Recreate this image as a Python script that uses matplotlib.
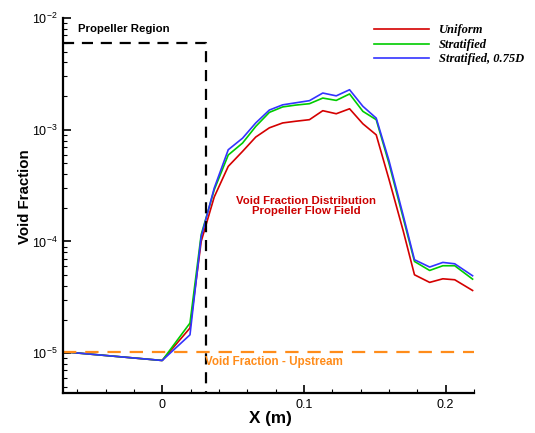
import matplotlib
matplotlib.use("Agg")
import matplotlib.pyplot as plt
from matplotlib.ticker import LogLocator, MultipleLocator, FixedLocator

# ---- data ----
x = [-0.07, 0.0, 0.0196, 0.0275, 0.0367, 0.0466, 0.0567, 0.066, 0.0756, 0.085,
     0.094, 0.1039, 0.1133, 0.1228, 0.1322, 0.1416, 0.151, 0.16, 0.17, 0.178,
     0.1887, 0.198, 0.2064, 0.219]
uniform = [1.03e-5, 8.6e-6, 1.68e-5, 1.0e-4, 2.5e-4, 4.7e-4, 6.4e-4, 8.6e-4, 1.04e-3, 1.15e-3,
           1.19e-3, 1.23e-3, 1.48e-3, 1.39e-3, 1.54e-3, 1.13e-3, 9.0e-4, 3.6e-4, 1.25e-4, 5.03e-5,
           4.3e-5, 4.63e-5, 4.54e-5, 3.64e-5]
stratified = [1.03e-5, 8.6e-6, 1.86e-5, 1.15e-4, 2.9e-4, 5.94e-4, 7.6e-4, 1.07e-3, 1.43e-3, 1.6e-3,
              1.66e-3, 1.71e-3, 1.92e-3, 1.83e-3, 2.09e-3, 1.46e-3, 1.23e-3, 5.0e-4, 1.63e-4, 6.62e-5,
              5.5e-5, 6.06e-5, 6.06e-5, 4.6e-5]
stratified_075D = [1.03e-5, 8.6e-6, 1.46e-5, 1.1e-4, 3.0e-4, 6.62e-4, 8.4e-4, 1.15e-3, 1.5e-3, 1.67e-3,
                   1.74e-3, 1.82e-3, 2.13e-3, 2.01e-3, 2.28e-3, 1.62e-3, 1.27e-3, 5.3e-4, 1.72e-4, 6.86e-5,
                   5.9e-5, 6.49e-5, 6.31e-5, 4.93e-5]
series_labels = ["Uniform", "Stratified", "Stratified, 0.75D"]

upstream_level = 1.03e-5
prop_region_x = [-0.07, 0.031, 0.031]
prop_region_y = [6.0e-3, 6.0e-3, 4.4e-6]

xlim = (-0.07, 0.22)
ylim = (4.4e-6, 1e-2)
xticks = [0, 0.1, 0.2]
xtick_labels = ["0", "0.1", "0.2"]

# ---- figure ----
plt.rcParams['font.family'] = ['Liberation Sans', 'DejaVu Sans']
fig = plt.figure(figsize=(5.35, 4.33), dpi=100)
ax = fig.add_axes([63/535, 40/433, 411/535, 375/433])

colors = ["#d40000", "#00cc00", "#3333ff"]
for ys, c, lab in zip([uniform, stratified, stratified_075D], colors, series_labels):
    ax.plot(x, ys, color=c, lw=1.2, label=lab, clip_on=True)

ax.plot(xlim, [upstream_level, upstream_level], color="#ff8c1a", lw=1.6,
        dashes=(6, 4), clip_on=False)
ax.plot(prop_region_x, prop_region_y, color="black", lw=1.6, dashes=(5, 3.5), clip_on=False)

ax.set_yscale("log")
ax.set_xlim(*xlim)
ax.set_ylim(*ylim)
ax.xaxis.set_major_locator(FixedLocator(xticks))
ax.set_xticklabels(xtick_labels)
ax.xaxis.set_minor_locator(MultipleLocator(0.02))
ax.yaxis.set_major_locator(LogLocator(base=10, numticks=10))
ax.yaxis.set_minor_locator(LogLocator(base=10, subs=range(2, 10), numticks=20))

for s in ["top", "right"]:
    ax.spines[s].set_visible(False)
for s in ["left", "bottom"]:
    ax.spines[s].set_linewidth(1.6)

ax.tick_params(which="major", direction="in", length=6, width=1.2, labelsize=9, pad=4)
ax.tick_params(which="minor", direction="in", length=3, width=0.8)

ax.set_xlabel("X (m)", fontsize=12.3, fontweight="bold")
ax.xaxis.set_label_coords((270 - 63) / 411, (393 - 419) / 375)
ax.set_ylabel("Void Fraction", fontsize=10.8, fontweight="bold")
ax.yaxis.set_label_coords((25 - 63) / 411, (393 - 197) / 375)
ax.yaxis.label.set_va("center")
ax.xaxis.label.set_va("center")

leg = ax.legend(loc="upper left", bbox_to_anchor=(0.757, 0.983), frameon=False,
                handlelength=4.4, handletextpad=0.8, labelspacing=0.2,
                borderpad=0, borderaxespad=0,
                prop={"family": ["Liberation Serif", "DejaVu Serif"], "weight": "bold",
                      "style": "italic", "size": 9})

ax.text(78/535, 1 - 29/433, "Propeller Region", transform=fig.transFigure,
        fontsize=8.2, fontweight="bold", va="center", ha="left")
ax.text(306/535, 1 - 206/433, "Void Fraction Distribution\nPropeller Flow Field",
        transform=fig.transFigure, fontsize=8.2, fontweight="bold", color="#cc0000",
        ha="center", va="center", linespacing=1.0)
ax.text(205/535, 1 - 362/433, "Void Fraction - Upstream", transform=fig.transFigure,
        fontsize=8.4, fontweight="bold", color="#ff8c1a", ha="left", va="center")

fig.savefig("out.png", dpi=100)
